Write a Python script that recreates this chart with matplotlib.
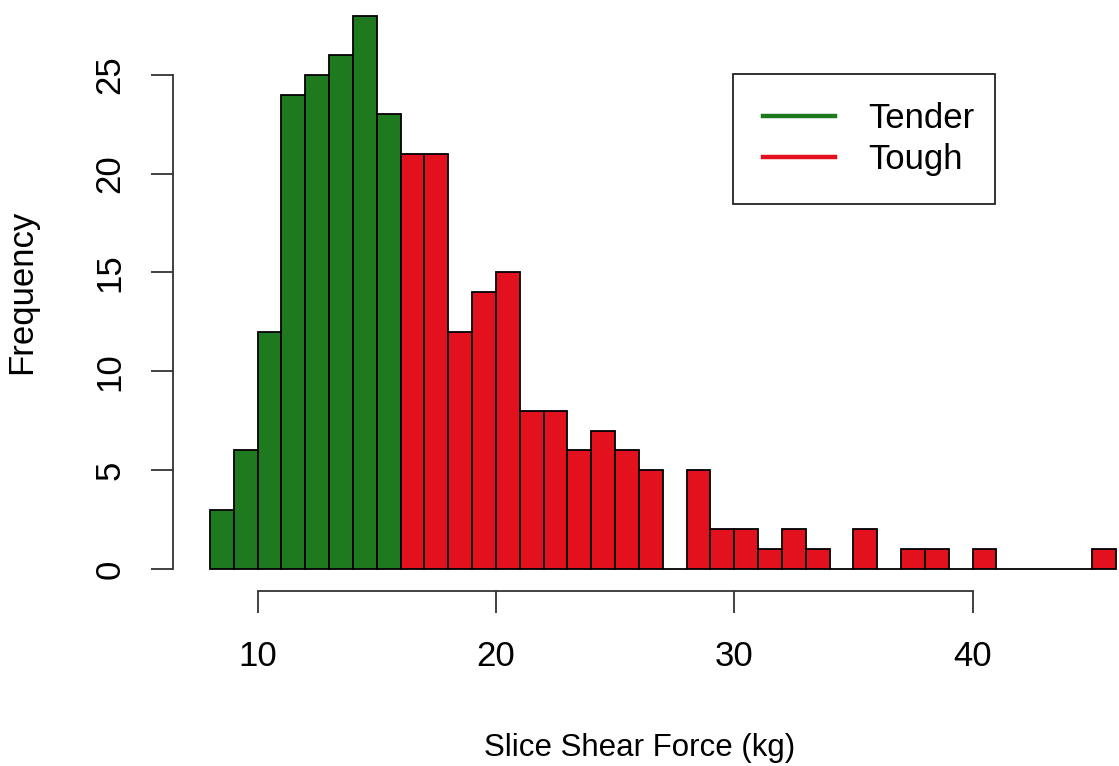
import matplotlib
matplotlib.use("Agg")
import matplotlib.pyplot as plt
from matplotlib.lines import Line2D
from matplotlib.patches import Rectangle

plt.rcParams['font.family'] = ['Liberation Sans', 'DejaVu Sans']

bin_left = list(range(8, 46))
counts = [3, 6, 12, 24, 25, 26, 28, 23,
          21, 21, 12, 14, 15, 8, 8, 6, 7, 6, 5, 0, 5, 2, 2, 1, 2, 1, 0, 2, 0, 1, 1, 0, 1, 0, 0, 0, 0, 1]
threshold = 16
green = '#1f7a1f'
red = '#e3101e'
labels = ['Tender', 'Tough']
xticks = [10, 20, 30, 40]
yticks = [0, 5, 10, 15, 20, 25]

FS = 25
W, H = 1119, 766
fig = plt.figure(figsize=(W / 100, H / 100), dpi=100)
L, R, B, T = 173, 1119, 591, 0
ax = fig.add_axes([L / W, 1 - B / H, (R - L) / W, (B - T) / H])
ax.set_xlim(6.45, 6.45 + (R - L) / 23.833)
ax.set_ylim(-1.12, -1.12 + (B - T) / 19.76)

cols = [green if x < threshold else red for x in bin_left]
ax.bar(bin_left, counts, width=1, align='edge', color=cols, edgecolor='black', linewidth=1.3)

for s in ['top', 'right']:
    ax.spines[s].set_visible(False)
ax.spines['left'].set_bounds(0, 25)
ax.spines['bottom'].set_bounds(10, 40)
for s in ['left', 'bottom']:
    ax.spines[s].set_linewidth(1.3)
    ax.spines[s].set_color('#333333')
ax.set_xticks(xticks)
ax.set_yticks(yticks)
ax.tick_params(axis='both', length=16, width=1.3, labelsize=FS, direction='out', color='#333333')
ax.tick_params(axis='x', pad=19)
ax.tick_params(axis='y', pad=17.5)
for t in ax.get_yticklabels():
    t.set_rotation(90)
    t.set_va('center')

fig.text(640 / W, 1 - 756 / H, 'Slice Shear Force (kg)', ha='center', va='baseline', fontsize=22.5)
fig.text(22 / W, 1 - 291.5 / H, 'Frequency', ha='center', va='center', rotation=90, fontsize=FS)

handles = [Line2D([], [], color=green, lw=3.2), Line2D([], [], color=red, lw=3.2)]
leg = ax.legend(handles, labels, loc='center left', bbox_to_anchor=(763 / W, 1 - 139 / H),
                bbox_transform=fig.transFigure, fontsize=FS, frameon=False,
                handlelength=2.07, handletextpad=0.95, borderpad=0,
                labelspacing=0.25, borderaxespad=0)
fig.patches.append(Rectangle((733 / W, 1 - 204 / H), (995 - 733) / W, (204 - 74) / H,
                             transform=fig.transFigure, fill=False, edgecolor='#222222',
                             linewidth=1.3))

fig.savefig('out.png', dpi=100)
